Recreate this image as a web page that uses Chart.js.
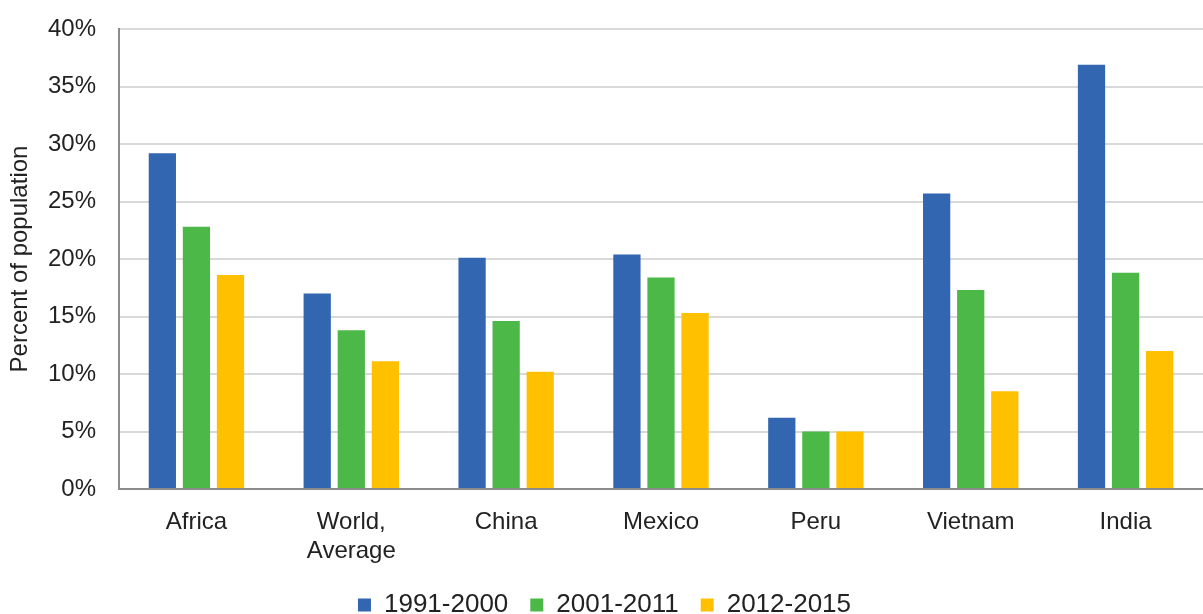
<!DOCTYPE html>
<html>
<head>
<meta charset="utf-8">
<script src="https://cdn.jsdelivr.net/npm/chart.js@4"></script>
<style>
  html, body { margin: 0; padding: 0; background: #fff; }
  #wrap { width: 1203px; height: 614px; position: relative; }
</style>
</head>
<body>
<div id="wrap"><canvas id="chart"></canvas></div>
<script>
// Data
const categories = ['Africa', ['World,', 'Average'], 'China', 'Mexico', 'Peru', 'Vietnam', 'India'];
const seriesNames = ['1991-2000', '2001-2011', '2012-2015'];
const values1991 = [29.2, 17.0, 20.1, 20.4, 6.2, 25.7, 36.9];
const values2001 = [22.8, 13.8, 14.6, 18.4, 5.0, 17.3, 18.8];
const values2012 = [18.6, 11.1, 10.2, 15.3, 5.0, 8.5, 12.0];
const colors = ['#3366b0', '#4cb848', '#ffc000'];

const fontFamily = '"Liberation Sans", Arial, Helvetica, sans-serif';

// keep the legend short so it sits low, while items stay spread out
const legendHeight = {
    id: 'legendHeight',
    beforeLayout(chart) {
        const legend = chart.legend;
        if (!legend || legend._patched) return;
        const fit = legend.fit;
        legend.fit = function() {
            fit.call(this);
            this.height = 44;
        };
        legend._patched = true;
    }
};

const ctx = document.getElementById('chart').getContext('2d');
new Chart(ctx, {
    type: 'bar',
    data: {
        labels: categories,
        datasets: [values1991, values2001, values2012].map((vals, i) => ({
            label: seriesNames[i],
            data: vals,
            backgroundColor: colors[i],
            categoryPercentage: 0.66,
            barPercentage: 0.8
        }))
    },
    options: {
        responsive: true,
        maintainAspectRatio: false,
        animation: false,
        layout: { padding: { top: 0, right: 0, left: 6, bottom: 0 } },
        plugins: {
            legend: {
                position: 'bottom',
                labels: {
                    boxWidth: 13,
                    boxHeight: 13,
                    padding: 22,
                    color: '#222',
                    font: { family: fontFamily, size: 26 }
                }
            },
            tooltip: { enabled: false }
        },
        scales: {
            x: {
                grid: { display: false, drawTicks: false },
                border: { color: '#8c8c8c', width: 2 },
                ticks: {
                    color: '#222',
                    padding: 19,
                    font: { family: fontFamily, size: 24, lineHeight: 1.2 }
                },
                afterFit: scale => { scale.height = 81; }
            },
            y: {
                min: 0,
                max: 40,
                ticks: {
                    stepSize: 5,
                    color: '#222',
                    padding: 23,
                    font: { family: fontFamily, size: 24 },
                    callback: v => v + '%'
                },
                grid: { color: '#d9d9d9', lineWidth: 2, drawTicks: false },
                border: { color: '#8c8c8c', width: 2 },
                title: {
                    display: true,
                    text: 'Percent of population',
                    color: '#222',
                    padding: { top: 0, bottom: 0 },
                    font: { family: fontFamily, size: 24 }
                },
                afterFit: scale => {
                    scale.width = 113;
                    scale.paddingTop = 29;
                }
            }
        }
    },
    plugins: [legendHeight]
});
</script>
</body>
</html>
